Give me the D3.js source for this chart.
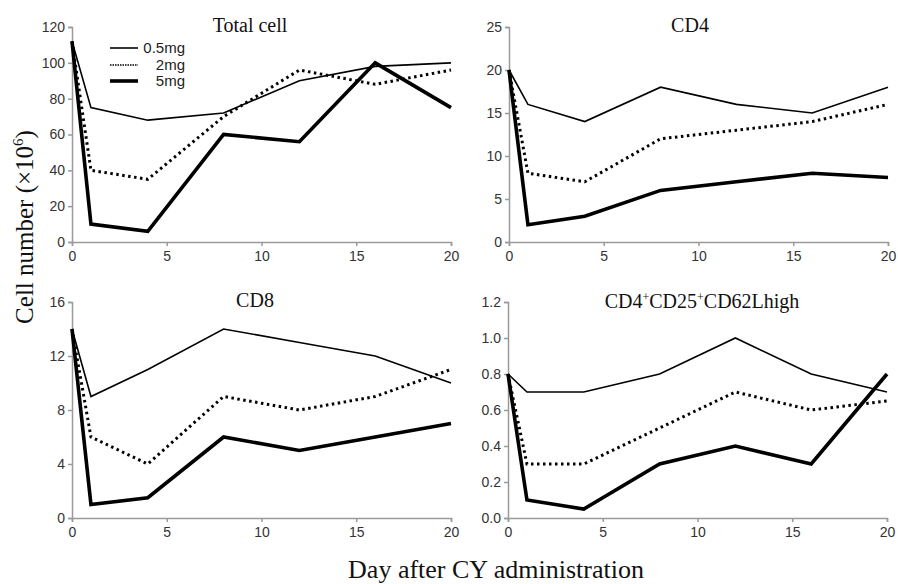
<!DOCTYPE html>
<html><head><meta charset="utf-8">
<script src="https://cdn.jsdelivr.net/npm/d3@7"></script>
<style>body{margin:0;background:#fff}svg{display:block}</style>
</head><body>
<svg id="c" width="898" height="584"></svg>
<script>
const days = [0, 1, 4, 8, 12, 16, 20];
const seriesNames = ["0.5mg", "2mg", "5mg"];
const xTicks = [0, 5, 10, 15, 20];

const totalLow = [112, 75, 68, 72, 90, 98, 100];
const totalMid = [112, 40, 35, 70, 96, 88, 96];
const totalHigh = [112, 10, 6, 60, 56, 100, 75];

const cd4Low = [20, 16, 14, 18, 16, 15, 18];
const cd4Mid = [20, 8, 7, 12, 13, 14, 16];
const cd4High = [20, 2, 3, 6, 7, 8, 7.5];

const cd8Low = [14, 9, 11, 14, 13, 12, 10];
const cd8Mid = [14, 6, 4, 9, 8, 9, 11];
const cd8High = [14, 1, 1.5, 6, 5, 6, 7];

const tregLow = [0.8, 0.7, 0.7, 0.8, 1.0, 0.8, 0.7];
const tregMid = [0.8, 0.3, 0.3, 0.5, 0.7, 0.6, 0.65];
const tregHigh = [0.8, 0.1, 0.05, 0.3, 0.4, 0.3, 0.8];

const totalTicks = [0, 20, 40, 60, 80, 100, 120];
const cd4Ticks = [0, 5, 10, 15, 20, 25];
const cd8Ticks = [0, 4, 8, 12, 16];
const tregTicks = [0, 0.2, 0.4, 0.6, 0.8, 1.0, 1.2];

const styles = [
  {w: 1.6, dash: null},
  {w: 3, dash: "2.5,3.5"},
  {w: 3.6, dash: null}
];

const panels = [
  {title: "Total cell", series: [totalLow, totalMid, totalHigh], ticks: totalTicks, fmt: d3.format("d"),
   x0: 72, x1: 451, y0: 242, y1: 27, tx: 250, ty: 32, legend: true},
  {title: "CD4", series: [cd4Low, cd4Mid, cd4High], ticks: cd4Ticks, fmt: d3.format("d"),
   x0: 509, x1: 888, y0: 242, y1: 27, tx: 690, ty: 32},
  {title: "CD8", series: [cd8Low, cd8Mid, cd8High], ticks: cd8Ticks, fmt: d3.format("d"),
   x0: 72, x1: 451, y0: 518, y1: 302, tx: 255, ty: 307},
  {title: "CD4⁺CD25⁺CD62Lhigh", series: [tregLow, tregMid, tregHigh], ticks: tregTicks, fmt: d3.format(".1f"),
   x0: 508, x1: 887, y0: 518, y1: 302, tx: 702, ty: 308, sup: true}
];

const svg = d3.select("#c");
const axisColor = "#9a9a9a";

panels.forEach(p => {
  const x = d3.scaleLinear().domain([0, 20]).range([p.x0, p.x1]);
  const y = d3.scaleLinear().domain([0, p.ticks[p.ticks.length - 1]]).range([p.y0, p.y1]);
  const g = svg.append("g");

  const ya = g.append("g").attr("transform", `translate(${p.x0},0)`)
    .call(d3.axisLeft(y).tickValues(p.ticks).tickFormat(p.fmt).tickSize(4).tickPadding(3));
  const xa = g.append("g").attr("transform", `translate(0,${p.y0})`)
    .call(d3.axisBottom(x).tickValues(xTicks).tickSize(4).tickPadding(5));
  [ya, xa].forEach(a => {
    a.select(".domain").attr("stroke", axisColor).attr("stroke-width", 1.5);
    a.selectAll(".tick line").attr("stroke", axisColor).attr("stroke-width", 1.5);
    a.selectAll(".tick text").attr("fill", "#333").style("font-family", "'Liberation Sans', Arial, sans-serif").style("font-size", "14px");
  });

  const line = d3.line().x((d, i) => x(days[i])).y(d => y(d));
  p.series.forEach((s, k) => {
    g.append("path").datum(s).attr("d", line).attr("fill", "none")
      .attr("stroke", "#000").attr("stroke-width", styles[k].w)
      .attr("stroke-dasharray", styles[k].dash).attr("stroke-linejoin", "miter");
  });

  const t = g.append("text").attr("x", p.tx).attr("y", p.ty).attr("text-anchor", "middle")
    .style("font-family", "'Liberation Serif', 'Times New Roman', serif").style("font-size", "20px").attr("fill", "#111");
  if (p.sup) {
    t.append("tspan").text("CD4");
    t.append("tspan").text("+").attr("dy", -7).style("font-size", "12px");
    t.append("tspan").text("CD25").attr("dy", 7);
    t.append("tspan").text("+").attr("dy", -7).style("font-size", "12px");
    t.append("tspan").text("CD62Lhigh").attr("dy", 7);
  } else {
    t.text(p.title);
  }

  if (p.legend) {
    const ly = [48, 65, 81];
    seriesNames.forEach((n, k) => {
      g.append("line").attr("x1", 110).attr("x2", 138).attr("y1", ly[k]).attr("y2", ly[k])
        .attr("stroke", "#000").attr("stroke-width", k === 1 ? 1.5 : styles[k].w)
        .attr("stroke-dasharray", k === 1 ? "1.5,1" : null);
      g.append("text").attr("x", 185).attr("y", ly[k] + 5).attr("text-anchor", "end")
        .style("font-family", "'Liberation Sans', Arial, sans-serif").style("font-size", "15px")
        .attr("fill", "#222").text(n);
    });
  }
});

svg.append("text").attr("transform", "translate(33,227) rotate(-90)").attr("text-anchor", "middle")
  .style("font-family", "'Liberation Serif', 'Times New Roman', serif").style("font-size", "25px").attr("fill", "#111")
  .call(t => {
    t.append("tspan").text("Cell number (×10");
    t.append("tspan").text("6").attr("dy", -10).style("font-size", "15px");
    t.append("tspan").text(")").attr("dy", 10);
  });

svg.append("text").attr("x", 496).attr("y", 578).attr("text-anchor", "middle")
  .style("font-family", "'Liberation Serif', 'Times New Roman', serif").style("font-size", "26px").attr("fill", "#111")
  .text("Day after CY administration");
</script>
</body></html>
